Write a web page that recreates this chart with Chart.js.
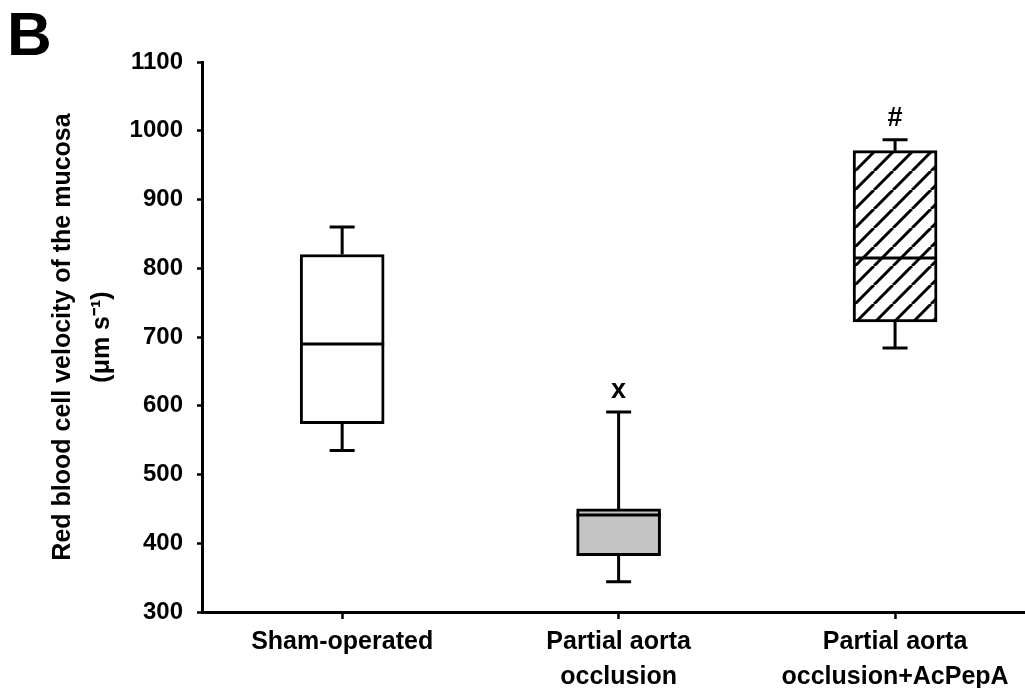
<!DOCTYPE html>
<html><head><meta charset="utf-8">
<script src="https://cdn.jsdelivr.net/npm/chart.js@4.4.0/dist/chart.umd.min.js"></script>
<style>html,body{margin:0;padding:0;background:#fff;}#wrap{width:1025px;height:688px;position:relative;}</style>
</head><body>
<div id="wrap"><canvas id="c" width="1025" height="688"></canvas></div>
<script>
// ---- data ----
const categories = [['Sham-operated'], ['Partial aorta', 'occlusion'], ['Partial aorta', 'occlusion+AcPepA']];
const whiskerLow = [535, 344, 684];
const q1 = [574, 382, 722];
const median = [690, 441, 815];
const q3 = [820, 450, 971];
const whiskerHigh = [860, 591, 987];
const markers = ['', 'x', '#'];
const yTicks = [300, 400, 500, 600, 700, 800, 900, 1000, 1100];
const panelLabel = 'B';
const yTitle = ['Red blood cell velocity of the mucosa', '(\u03BCm s\u207B\u00B9)'];

const FONT = "'Liberation Sans', Arial, Helvetica, sans-serif";

function hatch() {
  const s = 19;
  const c = document.createElement('canvas');
  c.width = s; c.height = s;
  const g = c.getContext('2d');
  g.fillStyle = '#fff'; g.fillRect(0, 0, s, s);
  g.strokeStyle = '#000'; g.lineWidth = 3;
  for (const o of [-s, 0, s]) {
    g.beginPath(); g.moveTo(o, s); g.lineTo(o + s, 0); g.stroke();
  }
  return g.createPattern(c, 'repeat');
}
const fills = ['#ffffff', '#c4c4c4', hatch()];

const boxExtras = {
  id: 'boxExtras',
  afterDatasetsDraw(chart) {
    const ctx = chart.ctx;
    const ys = chart.scales.y;
    const meta = chart.getDatasetMeta(0);
    ctx.save();
    ctx.strokeStyle = '#000';
    ctx.lineWidth = 3;
    ctx.lineCap = 'butt';
    meta.data.forEach((el, i) => {
      const x = el.x, w = el.width;
      const cap = 25;
      const yMed = ys.getPixelForValue(median[i]);
      const yQ1 = ys.getPixelForValue(q1[i]);
      const yQ3 = ys.getPixelForValue(q3[i]);
      const yLo = ys.getPixelForValue(whiskerLow[i]);
      const yHi = ys.getPixelForValue(whiskerHigh[i]);
      ctx.beginPath();
      ctx.moveTo(x - w / 2, yMed); ctx.lineTo(x + w / 2, yMed);
      ctx.moveTo(x, yQ3); ctx.lineTo(x, yHi);
      ctx.moveTo(x - cap / 2, yHi); ctx.lineTo(x + cap / 2, yHi);
      ctx.moveTo(x, yQ1); ctx.lineTo(x, yLo);
      ctx.moveTo(x - cap / 2, yLo); ctx.lineTo(x + cap / 2, yLo);
      ctx.stroke();
      if (markers[i]) {
        ctx.fillStyle = '#000';
        ctx.font = 'bold 27px ' + FONT;
        ctx.textAlign = 'center';
        ctx.textBaseline = 'middle';
        ctx.fillText(markers[i], x, yHi - 21);
      }
    });
    ctx.restore();
  },
  afterDraw(chart) {
    const ctx = chart.ctx;
    ctx.save();
    ctx.fillStyle = '#000';
    ctx.font = 'bold 62px ' + FONT;
    ctx.textAlign = 'left';
    ctx.textBaseline = 'alphabetic';
    ctx.fillText(panelLabel, 7, 55);
    ctx.restore();
  }
};

new Chart(document.getElementById('c'), {
  type: 'bar',
  data: {
    datasets: [{
      data: categories.map((c, i) => ({ x: i + 1, y: [q1[i], q3[i]] })),
      backgroundColor: fills,
      borderColor: '#000',
      borderWidth: 3,
      borderSkipped: false,
      barThickness: 84
    }]
  },
  options: {
    responsive: false,
    devicePixelRatio: 1,
    animation: false,
    layout: { padding: { left: 0, top: 62, right: 0, bottom: 0 } },
    plugins: { legend: { display: false }, tooltip: { enabled: false } },
    scales: {
      x: {
        type: 'linear',
        offset: false,
        min: 0.493,
        max: 3.47,
        afterBuildTicks: s => { s.ticks = categories.map((c, i) => ({ value: i + 1 })); },
        afterFit: s => { s.height = 76; },
        ticks: {
          callback: v => categories[v - 1],
          font: { family: FONT, size: 25, weight: 'bold', lineHeight: 1.4 },
          color: '#000',
          padding: 6,
          autoSkip: false,
          maxRotation: 0
        },
        grid: { offset: false, drawOnChartArea: false, drawTicks: true, tickLength: 7, tickWidth: 2.5, tickColor: '#000' },
        border: { display: true, color: '#000', width: 3 }
      },
      y: {
        min: 300,
        max: 1100,
        afterBuildTicks: s => { s.ticks = yTicks.map(v => ({ value: v })); },
        afterFit: s => { s.width = 202; },
        ticks: {
          callback: v => String(v),
          font: { family: FONT, size: 24, weight: 'bold' },
          color: '#000',
          padding: 14
        },
        grid: { drawOnChartArea: false, drawTicks: true, tickLength: 5, tickWidth: 2.5, tickColor: '#000' },
        border: { display: true, color: '#000', width: 3 },
        title: {
          display: true,
          text: yTitle,
          font: { family: FONT, size: 25, weight: 'bold', lineHeight: 1.55 },
          color: '#000',
          padding: { top: 44, bottom: 0 }
        }
      }
    }
  },
  plugins: [boxExtras]
});
</script>
</body></html>
